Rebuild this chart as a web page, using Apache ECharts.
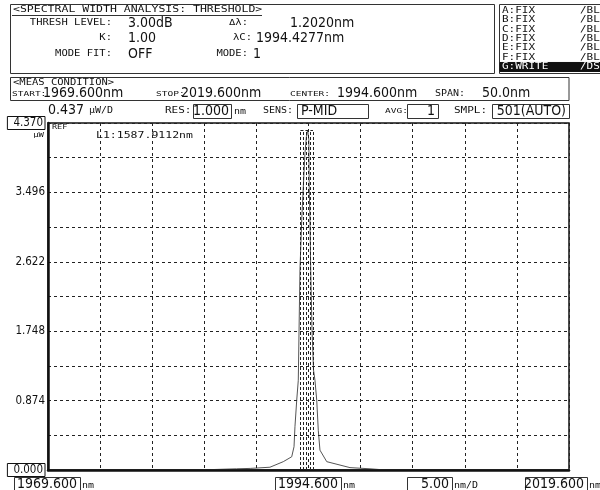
<!DOCTYPE html>
<html>
<head>
<meta charset="utf-8">
<script src="https://cdn.jsdelivr.net/npm/echarts@6/dist/echarts.min.js"></script>
<style>
  html, body { margin: 0; padding: 0; background: #fff; }
  #chart { width: 600px; height: 490px; }
</style>
</head>
<body>
<div id="chart"></div>
<script>
// Sweep settings (nm)
const startNm = 1969.6;
const stopNm = 2019.6;
const centerNm = 1994.6;
const xDivNm = 5;
// Level scale (µW)
const refLevel = 4.37;
const yDivLevel = 0.437;

// Level tick labels, one every second division
const yTickLabels = ['0.000', '0.874', '1.748', '2.622', '3.496', '4.370'];

// Trace A: wavelength (nm) and optical power (µW)
const traceNm = [1969.6, 1984.0, 1987.7, 1989.0, 1990.9, 1992.18, 1992.99, 1993.21, 1993.30, 1993.47,
  1993.62, 1993.78, 1993.95, 1994.10, 1994.26, 1994.40, 1994.52, 1994.63, 1994.67, 1994.74,
  1994.81, 1994.94, 1995.08, 1995.22, 1995.39, 1995.54, 1995.70, 1996.35, 1998.58, 2000.5,
  2002.0, 2019.6];
const tracePower = [0, 0, 0.015, 0.02, 0.035, 0.105, 0.167, 0.293, 0.545, 0.88,
  1.13, 2.52, 3.15, 3.56, 3.99, 4.2, 4.28, 4.16, 3.56, 3.15,
  2.52, 1.76, 1.26, 1.13, 0.88, 0.50, 0.25, 0.105, 0.03, 0.015,
  0, 0];

// Threshold analysis markers (nm) and the level of the marker box top (µW)
const markerNm = [1993.827, 1994.13, 1994.4277, 1994.75, 1995.029];
const markerTopLevel = 4.28;

// Trace memory status list
const traceIds = ['A', 'B', 'C', 'D', 'E', 'F', 'G'];
const traceModes = ['FIX', 'FIX', 'FIX', 'FIX', 'FIX', 'FIX', 'WRITE'];
const traceFlags = ['/BL', '/BL', '/BL', '/BL', '/BL', '/BL', '/DS'];

const LBL = '"DejaVu Sans Mono", "Liberation Mono", monospace';
const NUM = '"DejaVu Sans Condensed", "Liberation Sans Narrow", "DejaVu Sans", sans-serif';
const INK = '#111';

// x positions on the axis are offsets from the sweep start
const toX = nm => +(nm - startNm).toFixed(4);
const traceData = traceNm.map((nm, i) => [toX(nm), tracePower[i]]);

const markerLines = markerNm.map(nm => [{ coord: [toX(nm), 0] }, { coord: [toX(nm), markerTopLevel] }]);
markerLines.push([{ coord: [toX(markerNm[0]), markerTopLevel] }, { coord: [toX(markerNm[markerNm.length - 1]), markerTopLevel] }]);

// ---- helpers for the panel graphics ----
function label(x, y, text, opt) {
  opt = opt || {};
  return {
    type: 'text', x: x, y: y, scaleY: opt.sy || 0.8, silent: true, z: 10,
    style: {
      text: text, font: (opt.size || 10.5) + 'px ' + LBL, fill: opt.fill || INK,
      textAlign: opt.align || 'left', textVerticalAlign: 'middle'
    }
  };
}
function num(x, y, text, opt) {
  opt = opt || {};
  return {
    type: 'text', x: x, y: y, silent: true, z: 10,
    style: {
      text: text, font: (opt.size || 14) + 'px ' + NUM, fill: opt.fill || INK,
      textAlign: opt.align || 'left', textVerticalAlign: 'middle'
    }
  };
}
function box(x, y, w, h, opt) {
  opt = opt || {};
  return {
    type: 'rect', silent: true, z: opt.z || 9,
    shape: { x: x, y: y, width: w, height: h },
    style: { fill: opt.fill || 'none', stroke: opt.stroke || '#333', lineWidth: opt.lw || 1 }
  };
}
function hline(x1, x2, y, opt) {
  opt = opt || {};
  return {
    type: 'line', silent: true, z: 10,
    shape: { x1: x1, y1: y, x2: x2, y2: y },
    style: { stroke: opt.stroke || '#333', lineWidth: opt.lw || 1 }
  };
}

const graphics = [];
// analysis panel
graphics.push(box(10.5, 4.5, 484, 69));
graphics.push(label(13, 10, '<SPECTRAL WIDTH ANALYSIS: THRESHOLD>', { size: 11.5, sy: 0.75 }));
graphics.push(hline(12, 262, 15.5));
graphics.push(label(112, 23, 'THRESH LEVEL:', { align: 'right' }));
graphics.push(num(128, 23, '3.00dB'));
graphics.push(label(248, 23, '\u0394\u03bb:', { align: 'right' }));
graphics.push(num(290, 23, '1.2020nm'));
graphics.push(label(112, 38, 'K:', { align: 'right' }));
graphics.push(num(128, 38, '1.00'));
graphics.push(label(252, 38, '\u03bbC:', { align: 'right' }));
graphics.push(num(256, 38, '1994.4277nm'));
graphics.push(label(112, 54, 'MODE FIT:', { align: 'right' }));
graphics.push(num(128, 54, 'OFF'));
graphics.push(label(248, 54, 'MODE:', { align: 'right' }));
graphics.push(num(253, 54, '1'));

// trace status panel
graphics.push(box(499.5, 4.5, 110, 69));
traceIds.forEach((id, i) => {
  const y = 11 + i * 9.33;
  const active = traceModes[i] === 'WRITE';
  if (active) graphics.push(box(500, y - 4.5, 100, 9, { fill: '#111', stroke: '#111', z: 9 }));
  const fill = active ? '#fff' : INK;
  graphics.push(label(502, y, id + ':' + traceModes[i], { fill: fill, size: 11, sy: 0.72 }));
  graphics.push(label(580, y, traceFlags[i], { fill: fill, size: 11, sy: 0.72 }));
});

// measurement condition panel
graphics.push(box(10.5, 77.5, 558.5, 23));
graphics.push(label(13, 82.5, '<MEAS CONDITION>', { size: 10.5, sy: 0.75 }));
graphics.push(label(12, 94, 'START:', { size: 9.5 }));
graphics.push(num(43, 93, startNm.toFixed(3) + 'nm'));
graphics.push(label(156, 94, 'STOP:', { size: 9.5 }));
graphics.push(num(181, 93, stopNm.toFixed(3) + 'nm'));
graphics.push(label(290, 94, 'CENTER:', { size: 9.5 }));
graphics.push(num(337, 93, centerNm.toFixed(3) + 'nm'));
graphics.push(label(435, 94, 'SPAN:', { size: 10 }));
graphics.push(num(482, 93, (stopNm - startNm).toFixed(1) + 'nm'));

// scale / settings row
graphics.push(num(48, 110, yDivLevel.toFixed(3)));
graphics.push(label(89, 111, '\u00b5W/D', { size: 10 }));
graphics.push(label(165, 111, 'RES:', { size: 11 }));
graphics.push(box(193.5, 104.5, 38, 14));
graphics.push(num(229, 111, '1.000', { align: 'right' }));
graphics.push(label(234, 112, 'nm', { size: 10 }));
graphics.push(label(263, 111, 'SENS:', { size: 10 }));
graphics.push(box(297.5, 104.5, 71, 14));
graphics.push(num(301, 111, 'P-MID'));
graphics.push(label(385, 111, 'AVG:', { size: 9.5 }));
graphics.push(box(407.5, 104.5, 31, 14));
graphics.push(num(435, 111, '1', { align: 'right' }));
graphics.push(label(454, 111, 'SMPL:', { size: 11 }));
graphics.push(box(492.5, 104.5, 77, 14));
graphics.push(num(566, 111, '501(AUTO)', { align: 'right' }));

// plot annotations
graphics.push(label(52, 127, 'REF', { size: 8.5, sy: 0.75 }));
graphics.push(label(44, 135, '\u00b5W', { size: 9, align: 'right' }));
graphics.push(label(96, 136, 'L1:1587.9112nm', { size: 11.5, sy: 0.72 }));

// bottom read-outs
graphics.push(box(14.5, 477.5, 66, 14));
graphics.push(num(77, 484, startNm.toFixed(3), { align: 'right' }));
graphics.push(label(82, 486, 'nm', { size: 10 }));
graphics.push(box(275.5, 477.5, 66, 14));
graphics.push(num(338, 484, centerNm.toFixed(3), { align: 'right' }));
graphics.push(label(343, 486, 'nm', { size: 10 }));
graphics.push(box(407.5, 477.5, 45, 14));
graphics.push(num(449, 484, xDivNm.toFixed(2), { align: 'right' }));
graphics.push(label(454, 486, 'nm/D', { size: 10 }));
graphics.push(box(525.5, 477.5, 62, 14));
graphics.push(num(584, 484, stopNm.toFixed(3), { align: 'right' }));
graphics.push(label(589, 486, 'nm', { size: 10 }));

const chart = echarts.init(document.getElementById('chart'), null, { renderer: 'canvas' });
chart.setOption({
  animation: false,
  backgroundColor: '#fff',
  grid: {
    left: 48, top: 123, width: 521, height: 347,
    show: true, borderColor: INK, borderWidth: 1.5, backgroundColor: 'transparent'
  },
  xAxis: {
    type: 'value', min: 0, max: toX(stopNm), interval: xDivNm, z: 3,
    axisLine: { show: true, onZero: false, lineStyle: { color: INK, width: 2.5 } },
    axisTick: { show: false },
    axisLabel: { show: false },
    splitLine: { show: true, lineStyle: { color: '#222', width: 1, type: [3, 3] } }
  },
  yAxis: {
    type: 'value', min: 0, max: refLevel, interval: yDivLevel, z: 3,
    axisLine: { show: true, lineStyle: { color: INK, width: 2.5 } },
    axisTick: { show: false },
    splitLine: { show: true, lineStyle: { color: '#222', width: 1, type: [3, 3] } },
    axisLabel: {
      margin: 3,
      fontFamily: NUM, fontSize: 11.5, color: INK,
      formatter: function (v) {
        const d = Math.round(v / yDivLevel);
        if (d % 2) return '';
        const t = yTickLabels[d / 2];
        return (d === 0 || d === 10) ? '{b|' + t + '}' : t;
      },
      rich: {
        b: {
          fontFamily: NUM, fontSize: 11.5, color: INK,
          borderColor: INK, borderWidth: 1, padding: [1, 2, 0, 6]
        }
      }
    }
  },
  graphic: graphics,
  series: [{
    type: 'line',
    data: traceData,
    showSymbol: false,
    smooth: false,
    lineStyle: { color: '#555', width: 1 },
    z: 2,
    markLine: {
      silent: true, symbol: 'none', animation: false,
      label: { show: false },
      lineStyle: { color: '#222', width: 1, type: [3, 2] },
      data: markerLines
    }
  }]
});
</script>
</body>
</html>
